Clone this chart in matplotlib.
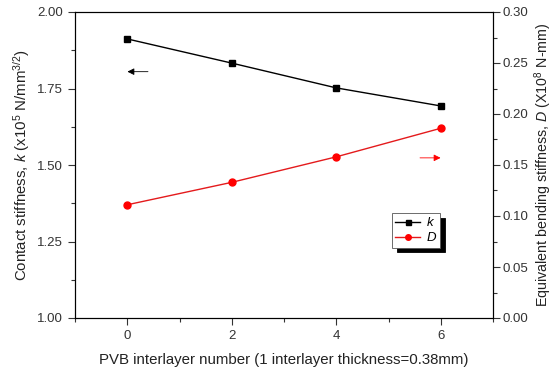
import matplotlib
matplotlib.use("Agg")
import matplotlib.pyplot as plt
from matplotlib.ticker import MultipleLocator, FormatStrFormatter

plt.rcParams['font.family'] = ['Liberation Sans', 'DejaVu Sans']
plt.rcParams['mathtext.fontset'] = 'custom'
plt.rcParams['mathtext.rm'] = 'Liberation Sans'
plt.rcParams['mathtext.it'] = 'Liberation Sans:italic'

layers = [0, 2, 4, 6]
k_vals = [1.912, 1.833, 1.752, 1.693]
D_vals = [0.111, 0.133, 0.158, 0.186]

fig = plt.figure(figsize=(5.55, 3.7), dpi=100)
ax = fig.add_axes([75/555, 1-318/370, (493-75)/555, (318-12)/370])
ax2 = ax.twinx()

ax.plot(layers, k_vals, '-s', color='black', ms=4.5, lw=1, label='$k$')
ax2.plot(layers, D_vals, '-o', color='#e41a1c', mfc='red', mec='red', ms=5, lw=1, label='$D$')

ax.set_xlim(-1, 7)
ax.set_ylim(1.0, 2.0)
ax2.set_ylim(0.0, 0.30)
ax.xaxis.set_major_locator(MultipleLocator(2))
ax.xaxis.set_minor_locator(MultipleLocator(1))
ax.yaxis.set_major_locator(MultipleLocator(0.25))
ax.yaxis.set_minor_locator(MultipleLocator(0.125))
ax2.yaxis.set_major_locator(MultipleLocator(0.05))
ax2.yaxis.set_minor_locator(MultipleLocator(0.025))
ax.yaxis.set_major_formatter(FormatStrFormatter('%.2f'))
ax2.yaxis.set_major_formatter(FormatStrFormatter('%.2f'))

for a in (ax, ax2):
    a.tick_params(which='major', length=5, width=0.8, labelsize=9.5, color='#333333', labelcolor='#333333')
    a.tick_params(which='minor', length=3, width=0.8, color='#333333')
    for s in a.spines.values():
        s.set_linewidth(0.8)
ax.tick_params(axis='x', which='both', top=False)
ax2.tick_params(axis='y', which='major', pad=2)

ax.set_xlabel('PVB interlayer number (1 interlayer thickness=0.38mm)', fontsize=10.8, color='#222222', labelpad=8)
ax.set_ylabel(r'Contact stiffness, $k$ (x10$^5$ N/mm$^{3/2}$)', fontsize=10.8, color='#222222', labelpad=4)
ax2.set_ylabel(r'Equivalent bending stiffness, $D$ (X10$^8$ N-mm)', fontsize=10.3, color='#222222', labelpad=3)

# arrows
ax.annotate('', xy=(-0.05, 1.805), xytext=(0.45, 1.805),
            arrowprops=dict(arrowstyle='-|>', color='black', lw=0.6, mutation_scale=10))
ax2.annotate('', xy=(6.05, 0.157), xytext=(5.55, 0.157),
             arrowprops=dict(arrowstyle='-|>', color='red', lw=0.6, mutation_scale=10))

h1, l1 = ax.get_legend_handles_labels()
h2, l2 = ax2.get_legend_handles_labels()
leg = ax2.legend(h1 + h2, l1 + l2, loc='upper left', bbox_to_anchor=((392-75)/418, 1-(213-12)/306),
                 fontsize=9.5, frameon=True, fancybox=False, shadow={'color': 'black', 'alpha': 1, 'ox': 3.5, 'oy': -3.5},
                 edgecolor='#555555', handlelength=1.9, borderpad=0.25, labelspacing=0.15,
                 handletextpad=0.4, borderaxespad=0, markerscale=0.8)
leg.get_frame().set_linewidth(0.6)

fig.savefig('out.png', dpi=100)
